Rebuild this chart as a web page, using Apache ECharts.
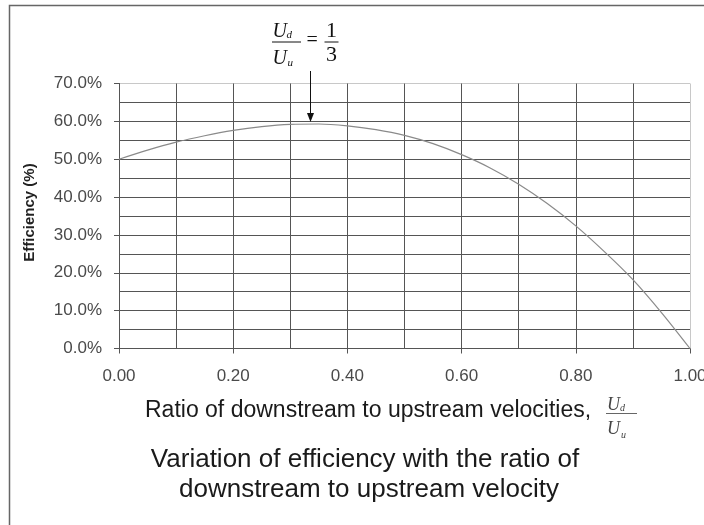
<!DOCTYPE html>
<html>
<head>
<meta charset="utf-8">
<script src="https://cdn.jsdelivr.net/npm/echarts@6/dist/echarts.min.js"></script>
<style>
html,body{margin:0;padding:0;background:#fff;}
#chart{width:704px;height:525px;}
</style>
</head>
<body>
<div id="chart"></div>
<script>
// Ratio of downstream to upstream velocity (Ud/Uu)
const ratio = [0.00, 0.05, 0.10, 0.15, 0.20, 0.25, 0.30, 0.35, 0.40, 0.45, 0.50,
               0.55, 0.60, 0.65, 0.70, 0.75, 0.80, 0.85, 0.90, 0.95, 1.00];
// Efficiency (%)
const efficiency = [50.0, 52.4, 54.5, 56.2, 57.6, 58.6, 59.2, 59.3, 58.8, 57.8, 56.3,
                    54.1, 51.2, 47.7, 43.4, 38.3, 32.4, 25.6, 18.2, 9.5, 0.0];
// Annotated peak point
const peakRatio = [1 / 3];
const peakEfficiency = [59.3];
// Texts
const yAxisTitle = 'Efficiency (%)';
const xAxisTitle = 'Ratio of downstream to upstream velocities,';
const captionLines = ['Variation of efficiency with the ratio of', 'downstream to upstream velocity'];

const seriesData = ratio.map((r, i) => [r, efficiency[i]]);

const dark = '#555555';
const light = '#c8c8c8';
const chart = echarts.init(document.getElementById('chart'), null, {renderer: 'canvas'});

const option = {
  animation: false,
  backgroundColor: '#ffffff',
  grid: {left: 119, right: 14, top: 83.5, bottom: 176.5, containLabel: false, outerBoundsMode: 'none'},
  xAxis: {
    type: 'value', min: 0, max: 1, interval: 0.2,
    axisLine: {show: true, lineStyle: {color: dark, width: 1}},
    axisTick: {show: true, length: 5, lineStyle: {color: dark}},
    axisLabel: {margin: 19, color: '#4a4a4a', fontFamily: 'Liberation Sans', fontSize: 17,
      formatter: v => v.toFixed(2), showMaxLabel: true, showMinLabel: true, hideOverlap: false},
    splitLine: {show: true, lineStyle: {color: [dark, dark, dark, dark, dark, light], width: 1}},
    minorTick: {show: false, splitNumber: 2},
    minorSplitLine: {show: true, lineStyle: {color: dark, width: 1}}
  },
  yAxis: {
    type: 'value', min: 0, max: 70, interval: 10,
    axisLine: {show: true, lineStyle: {color: dark, width: 1}},
    axisTick: {show: true, length: 5, lineStyle: {color: dark}},
    axisLabel: {margin: 17, color: '#4a4a4a', fontFamily: 'Liberation Sans', fontSize: 17,
      formatter: v => v.toFixed(1) + '%', showMaxLabel: true, showMinLabel: true, hideOverlap: false},
    splitLine: {show: true, lineStyle: {color: [dark, dark, dark, dark, dark, dark, dark, light], width: 1}},
    minorTick: {show: false, splitNumber: 2},
    minorSplitLine: {show: true, lineStyle: {color: dark, width: 1}}
  },
  series: [{
    type: 'line',
    data: seriesData,
    smooth: 0.3,
    showSymbol: false,
    symbol: 'none',
    lineStyle: {color: '#8a8a8a', width: 1.2},
    z: 3
  }]
};
chart.setOption(option);

// annotation positioned via the chart's own coordinate system
const p = chart.convertToPixel({xAxisIndex: 0, yAxisIndex: 0}, [peakRatio[0], peakEfficiency[0]]);
const ax = Math.round(p[0]) + 1.5;
const tipY = p[1] - 2;
const serif = 'Liberation Serif';
const ink = '#111';

function txt(x, y, s, size, opts) {
  opts = opts || {};
  return {
    type: 'text', x: x, y: y, z: 10,
    style: {text: s, fill: opts.fill || ink, font: (opts.style || '') + ' ' + (opts.weight || '') + ' ' + size + 'px ' + (opts.family || serif),
      align: opts.align || 'left', verticalAlign: opts.va || 'middle'},
    rotation: opts.rotation || 0
  };
}
function hline(x1, x2, y) {
  return {type: 'line', z: 10, shape: {x1: x1, y1: y, x2: x2, y2: y}, style: {stroke: ink, lineWidth: 1}};
}

const graphics = [
  // outer frame
  {type: 'rect', z: 0, shape: {x: 9.5, y: 5.5, width: 760, height: 560}, style: {fill: null, stroke: '#666', lineWidth: 1.5}},
  // arrow
  {type: 'line', z: 10, shape: {x1: ax, y1: 71, x2: ax, y2: tipY - 6}, style: {stroke: ink, lineWidth: 1}},
  {type: 'polygon', z: 10, shape: {points: [[ax, tipY], [ax - 3.5, tipY - 9], [ax + 3.5, tipY - 9]]}, style: {fill: ink}},
  // fraction Ud/Uu = 1/3
  txt(ax - 38, 32, 'U', 20, {style: 'italic'}),
  txt(ax - 24, 35, 'd', 11, {style: 'italic'}),
  hline(ax - 38.5, ax - 9.5, 42),
  txt(ax - 38, 59, 'U', 20, {style: 'italic'}),
  txt(ax - 23, 63, 'u', 11, {style: 'italic'}),
  txt(ax - 4, 41, '=', 20),
  txt(ax + 21, 31, '1', 22, {align: 'center'}),
  hline(ax + 14, ax + 28, 42),
  txt(ax + 21, 55, '3', 22, {align: 'center'}),
  // y axis title
  txt(30, 212.5, yAxisTitle, 15, {family: 'Liberation Sans', weight: 'bold', align: 'center', rotation: Math.PI / 2, fill: '#222'}),
  // x axis title
  txt(145, 411, xAxisTitle, 23, {family: 'Liberation Sans', fill: '#1a1a1a'}),
  txt(607, 405, 'U', 18, {style: 'italic', fill: '#444'}),
  txt(620, 408, 'd', 10, {style: 'italic', fill: '#444'}),
  {type: 'line', z: 10, shape: {x1: 606, y1: 413.5, x2: 637, y2: 413.5}, style: {stroke: '#666', lineWidth: 1}},
  txt(607, 429, 'U', 18, {style: 'italic', fill: '#444'}),
  txt(621, 435, 'u', 10, {style: 'italic', fill: '#444'}),
  // caption
  txt(365, 460, captionLines[0], 26, {family: 'Liberation Sans', align: 'center', fill: '#1a1a1a'}),
  txt(369, 490, captionLines[1], 26, {family: 'Liberation Sans', align: 'center', fill: '#1a1a1a'})
];
chart.setOption({graphic: graphics});
</script>
</body>
</html>
